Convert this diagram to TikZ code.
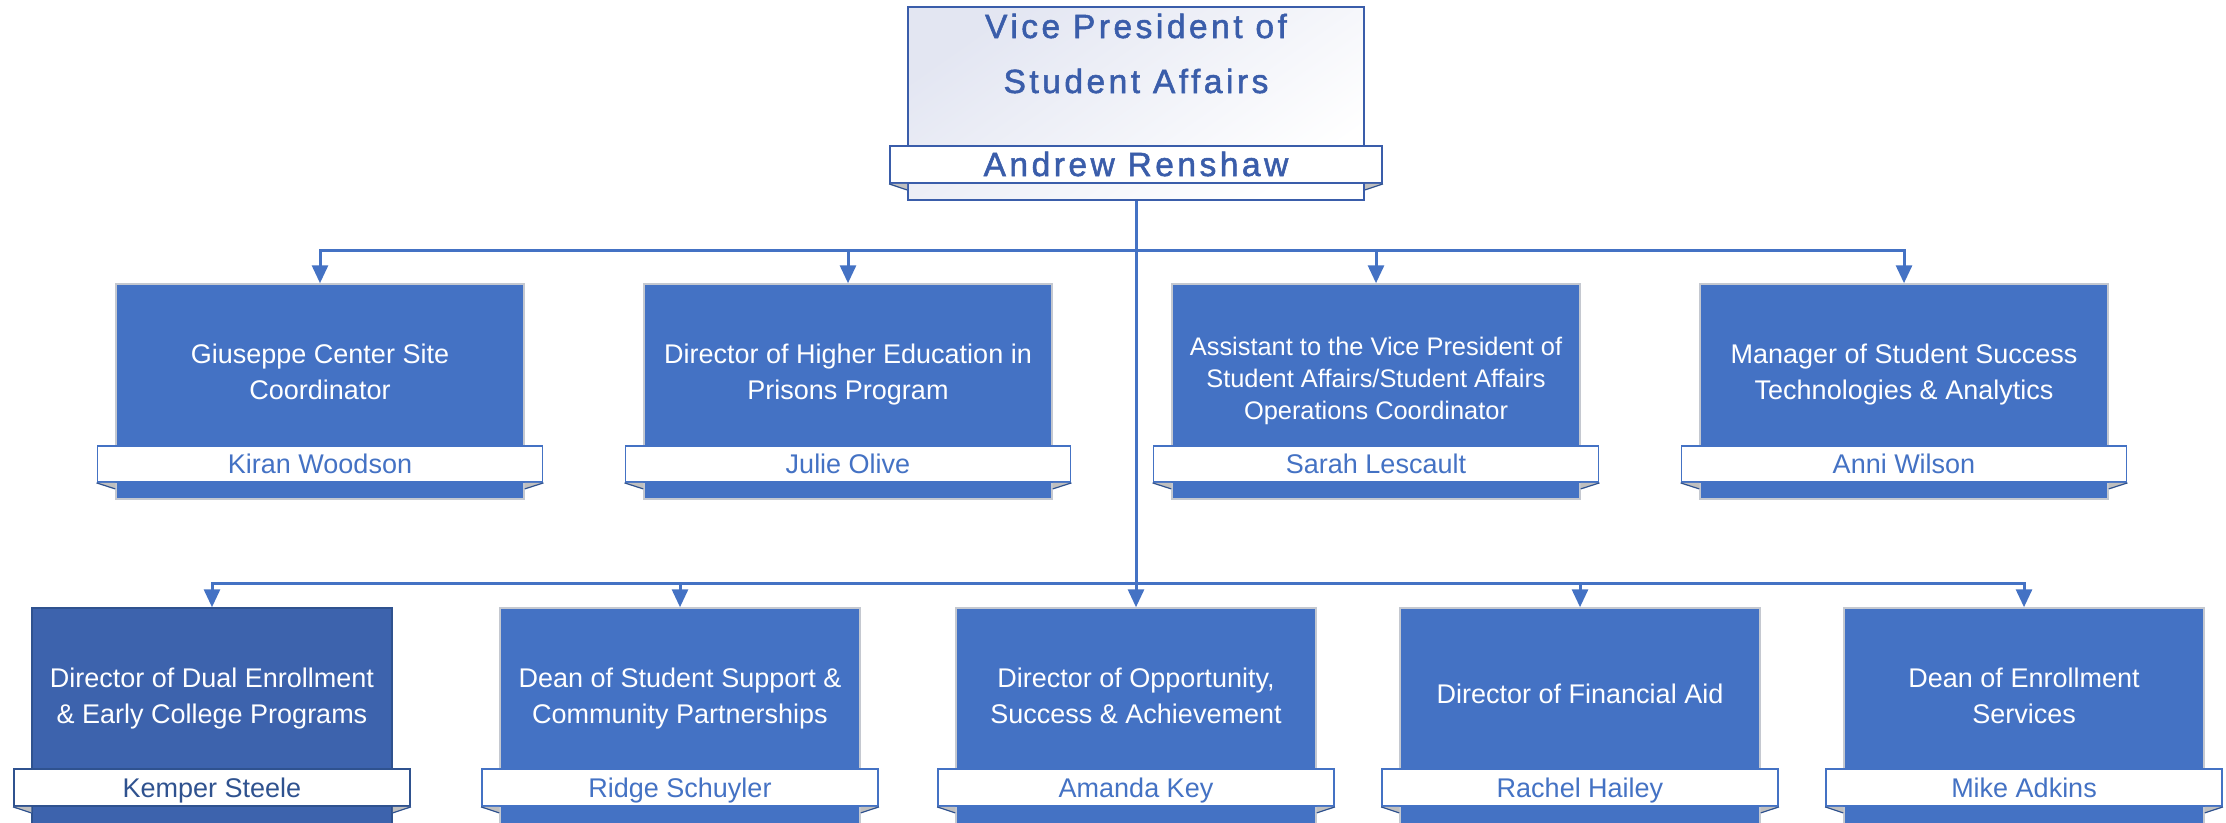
\documentclass[tikz,border=0pt]{standalone}
\usepackage{fontspec}
\setmainfont{Liberation Sans}
\newfontfamily\ttlfont[LetterSpace=10.5, FakeBold=1.6]{Liberation Sans}
\usetikzlibrary{arrows.meta}
\definecolor{acc}{HTML}{4472C4}
\definecolor{accdk}{HTML}{3D63AD}
\definecolor{navy}{HTML}{2F528F}
\definecolor{ttl}{HTML}{3A5DAA}
\definecolor{lav}{HTML}{E3E6F2}
\definecolor{foldgray}{HTML}{BFBFBF}
\definecolor{boxbd}{HTML}{C4C8D0}
\begin{document}
\begin{tikzpicture}[x=1pt,y=-1pt,
  conn/.style={draw=acc, line width=3pt, -{Triangle[length=18pt,width=16pt]}},
  rolebox/.style={rectangle, fill=acc, draw=boxbd, line width=1.5pt, inner sep=0pt},
  toprole/.style={rolebox, minimum width=408, minimum height=215},
  botrole/.style={rolebox, minimum width=360, minimum height=260},
  banner/.style={rectangle, fill=white, draw=acc, line width=1.8pt, inner sep=0pt,
    text=acc, font=\fontsize{27}{36}\selectfont, text height=19, text depth=0},
  topbanner/.style={banner, minimum width=445, minimum height=36},
  botbanner/.style={banner, minimum width=396, minimum height=37},
  roletext/.style={align=center, text=white, inner sep=0pt, font=\fontsize{27}{36}\selectfont},
  smalltext/.style={roletext, font=\fontsize{25.4}{32}\selectfont},
  vpstyle/.style={rectangle, draw=ttl, line width=2pt, inner sep=0pt, minimum width=456, minimum height=193,
    top color=lav, bottom color=white, shading angle=35},
]
\useasboundingbox (0,0) rectangle (2226,822);
\clip (0,0) rectangle (2226,822);
\fill[white] (0,0) rectangle (2226,822);

% top (VP) box
\node[vpstyle] (vp) at (1136,103.5) {};

% first-level boxes
\node[toprole] (t1) at (320,391.5) {};
\node[toprole] (t2) at (848,391.5) {};
\node[toprole] (t3) at (1376,391.5) {};
\node[toprole] (t4) at (1904,391.5) {};

% second-level boxes
\node[botrole, fill=accdk, draw=navy] (m1) at (212,738) {};
\node[botrole] (m2) at (680,738) {};
\node[botrole] (m3) at (1136,738) {};
\node[botrole] (m4) at (1580,738) {};
\node[botrole] (m5) at (2024,738) {};

% junctions
\coordinate (j1) at (1136,250);
\coordinate (j2) at (1136,583);

% connectors
\foreach \c in {t1,t2,t3,t4} {
  \draw[conn] (vp.south) -- (j1) -| (\c.north);
}
\foreach \c in {m1,m2,m4,m5} {
  \draw[conn] (vp.south) -- (j2) -| (\c.north);
}
\draw[conn] (vp.south) -- (m3.north);

% redraw VP box over line start
\node[vpstyle] at (vp) {};

% banners
\node[banner, draw=ttl, text=ttl, minimum width=492, minimum height=37,
  font=\ttlfont\fontsize{33.5}{55}\selectfont, text height=23] (vpn) at (1136,164.5) {Andrew Renshaw};
\node[topbanner] (n1) at (320,464) {Kiran Woodson};
\node[topbanner] (n2) at (848,464) {Julie Olive};
\node[topbanner] (n3) at (1376,464) {Sarah Lescault};
\node[topbanner] (n4) at (1904,464) {Anni Wilson};
\node[botbanner, draw=navy, text=navy] (p1) at (212,787.5) {Kemper Steele};
\node[botbanner] (p2) at (680,787.5) {Ridge Schuyler};
\node[botbanner] (p3) at (1136,787.5) {Amanda Key};
\node[botbanner] (p4) at (1580,787.5) {Rachel Hailey};
\node[botbanner] (p5) at (2024,787.5) {Mike Adkins};

% ribbon folds
\foreach \b/\n in {vp/vpn,t1/n1,t2/n2,t3/n3,t4/n4,m1/p1,m2/p2,m3/p3,m4/p4,m5/p5} {
  \fill[foldgray] (\n.south west) -- (\n.south west -| \b.west) -- ++(0,6) -- cycle;
  \fill[foldgray] (\n.south east) -- (\n.south east -| \b.east) -- ++(0,6) -- cycle;
  \draw[navy, line width=1.2pt] (\n.south west -| \b.west) ++(0,6) -- (\n.south west);
  \draw[navy, line width=1.2pt] (\n.south east -| \b.east) ++(0,6) -- (\n.south east);
}

% titles
\node[align=center, inner sep=0pt, text=ttl, font=\ttlfont\fontsize{33.5}{55}\selectfont]
  (vpt) at (1136,54.5) {\strut Vice President of\\\strut Student Affairs};
\node[roletext] (x1) at (320,373.8) {\strut Giuseppe Center Site\\\strut Coordinator};
\node[roletext] (x2) at (848,373.8) {\strut Director of Higher Education in\\\strut Prisons Program};
\node[smalltext] (x3) at (1376,380.6) {\strut Assistant to the Vice President of\\\strut Student Affairs/Student Affairs\\\strut Operations Coordinator};
\node[roletext] (x4) at (1904,373.8) {\strut Manager of Student Success\\\strut Technologies \& Analytics};
\node[roletext] (y1) at (212,697.8) {\strut Director of Dual Enrollment\\\strut \& Early College Programs};
\node[roletext] (y2) at (680,697.8) {\strut Dean of Student Support \&\\\strut Community Partnerships};
\node[roletext] (y3) at (1136,697.8) {\strut Director of Opportunity,\\\strut Success \& Achievement};
\node[roletext] (y4) at (1580,695.8) {\strut Director of Financial Aid};
\node[roletext] (y5) at (2024,697.8) {\strut Dean of Enrollment\\\strut Services};
\end{tikzpicture}
\end{document}
